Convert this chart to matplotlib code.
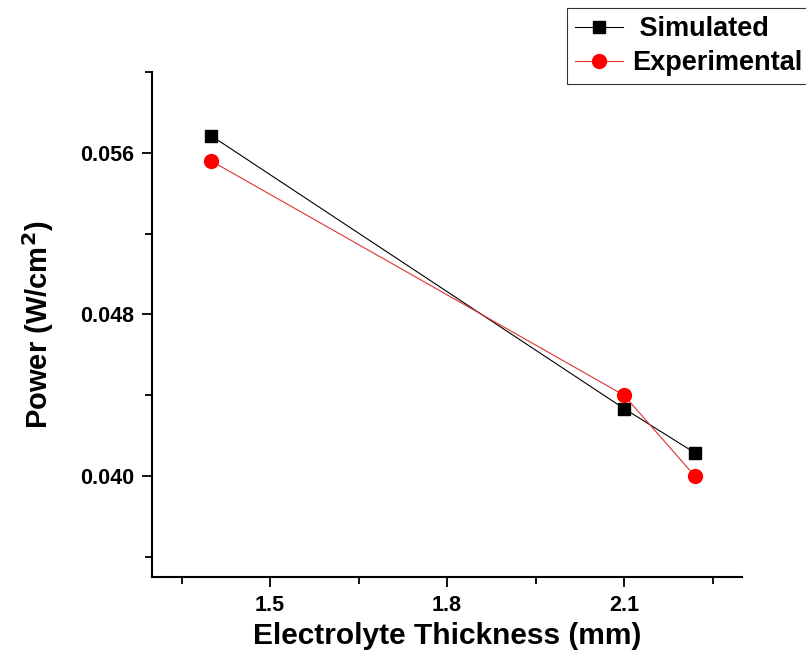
import matplotlib
matplotlib.use("Agg")
import matplotlib.pyplot as plt
from matplotlib.ticker import MultipleLocator

plt.rcParams['font.family'] = ['Liberation Sans', 'DejaVu Sans']
plt.rcParams['font.weight'] = 'bold'

thickness = [1.40, 2.10, 2.22]
simulated = [0.05685, 0.04334, 0.04115]
experimental = [0.0556, 0.0440, 0.0400]

fig = plt.figure(figsize=(8.06, 6.64), dpi=100)
ax = fig.add_axes([0.1886, 0.131, 0.732, 0.7606])

ax.plot(thickness, simulated, color='black', lw=0.8, marker='s', ms=8.5,
        label=' Simulated')
ax.plot(thickness, experimental, color='#dd3333', lw=0.8, marker='o', ms=10,
        mfc='red', mec='red', label='Experimental')

ax.set_xlim(1.3, 2.3)
ax.set_ylim(0.035, 0.060)
ax.xaxis.set_minor_locator(MultipleLocator(0.15))
ax.yaxis.set_minor_locator(MultipleLocator(0.004))
ax.set_xticks([1.5, 1.8, 2.1])
ax.set_xticklabels(['1.5', '1.8', '2.1'])
ax.set_yticks([0.040, 0.048, 0.056])
ax.set_yticklabels(['0.040', '0.048', '0.056'])

for s in ['top', 'right']:
    ax.spines[s].set_visible(False)
for s in ['left', 'bottom']:
    ax.spines[s].set_linewidth(1.5)
ax.tick_params(which='major', direction='out', length=7, width=1.3,
               labelsize=15.5, pad=6)
ax.tick_params(which='minor', direction='out', length=5, width=1.3)

ax.set_xlabel('Electrolyte Thickness (mm)', fontsize=21.5, fontweight='bold',
              labelpad=4)
ax.set_ylabel('Power (W/cm$^\\mathbf{2}$)', fontsize=21, fontweight='bold',
              labelpad=17)

leg = fig.legend(loc='upper left', bbox_to_anchor=(567 / 806, 1 - 8 / 664),
                 fontsize=19.5, frameon=True, fancybox=False, edgecolor='black',
                 handlelength=1.75, borderpad=0.3, labelspacing=0.3,
                 handletextpad=0.35, borderaxespad=0)
leg.get_frame().set_linewidth(0.8)

fig.savefig('out.png', dpi=100)
